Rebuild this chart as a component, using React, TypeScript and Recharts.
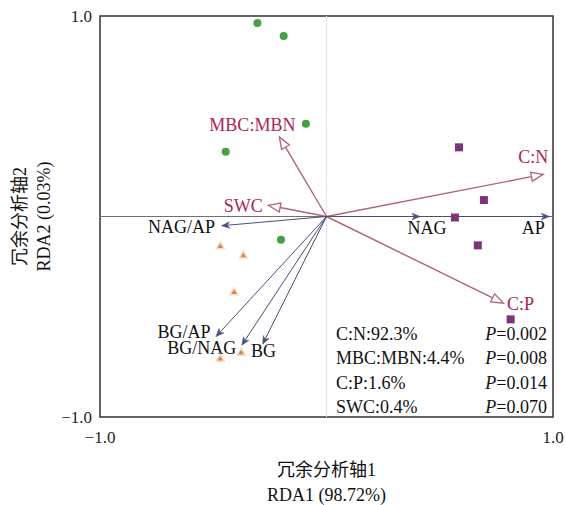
import React from "react";
import {
  ScatterChart,
  Scatter,
  XAxis,
  YAxis,
  ReferenceLine,
  ReferenceArea,
  ReferenceDot,
} from "recharts";

const FONT = "'Liberation Serif', 'Times New Roman', 'Noto Sans CJK SC', serif";

// sample scores
const groupGreen = [
  { x: -0.305, y: 0.965 },
  { x: -0.189, y: 0.9 },
  { x: -0.091, y: 0.463 },
  { x: -0.445, y: 0.323 },
  { x: -0.201, y: -0.116 },
];
const groupPurple = [
  { x: 0.585, y: 0.345 },
  { x: 0.695, y: 0.082 },
  { x: 0.567, y: -0.005 },
  { x: 0.668, y: -0.144 },
  { x: 0.813, y: -0.513 },
];
const groupOrange = [
  { x: -0.469, y: -0.146 },
  { x: -0.367, y: -0.192 },
  { x: -0.408, y: -0.375 },
  { x: -0.377, y: -0.677 },
  { x: -0.469, y: -0.707 },
];

// environmental factors (red arrows)
const envArrows = [
  { name: "C:N", x: 0.957, y: 0.21 },
  { name: "MBC:MBN", x: -0.208, y: 0.397 },
  { name: "C:P", x: 0.781, y: -0.432 },
  { name: "SWC", x: -0.257, y: 0.056 },
];

// enzyme variables (dark arrows)
const enzymeArrows = [
  { name: "AP", x: 0.984, y: 0 },
  { name: "NAG", x: 0.413, y: 0 },
  { name: "NAG/AP", x: -0.463, y: -0.046 },
  { name: "BG/AP", x: -0.488, y: -0.599 },
  { name: "BG/NAG", x: -0.374, y: -0.642 },
  { name: "BG", x: -0.282, y: -0.637 },
];

const statLabels = ["C:N:92.3%", "MBC:MBN:4.4%", "C:P:1.6%", "SWC:0.4%"];
const pValues = ["0.002", "0.008", "0.014", "0.070"];

const axisTicks = [-1, 1];

// label placement relative to arrow tip (px)
const labelOffset: Record<string, [number, number]> = {
  "C:N": [-10, -17],
  "MBC:MBN": [-27, -12],
  "C:P": [17, 1],
  SWC: [-25, 1],
  AP: [-16, 11],
  NAG: [7, 11],
  "NAG/AP": [-40, 1],
  "BG/AP": [-32, -5],
  "BG/NAG": [-40, 3],
  BG: [1, 7],
};

const ENV_LINE = "#b06474";
const ENV_TEXT = "#ad2457";
const ENZ_LINE = "#4a4e7c";

function arrowShape(name: string, kind: "env" | "enz") {
  return (p: any) => {
    const x1 = Number(p.x1);
    const y1 = Number(p.y1);
    const x2 = Number(p.x2);
    const y2 = Number(p.y2);
    const ang = Math.atan2(y2 - y1, x2 - x1);
    const cos = Math.cos(ang);
    const sin = Math.sin(ang);
    const len = kind === "env" ? 12 : 8;
    const hw = kind === "env" ? 4.5 : 3.2;
    const bx = x2 - len * cos;
    const by = y2 - len * sin;
    const lx = bx - hw * -sin;
    const ly = by - hw * cos;
    const rx = bx + hw * -sin;
    const ry = by + hw * cos;
    const nx = x2 - len * 0.7 * cos;
    const ny = y2 - len * 0.7 * sin;
    const [dx, dy] = labelOffset[name] || [0, 0];
    return (
      <g>
        <line
          x1={x1}
          y1={y1}
          x2={kind === "env" ? bx : nx}
          y2={kind === "env" ? by : ny}
          stroke={kind === "env" ? ENV_LINE : ENZ_LINE}
          strokeWidth={kind === "env" ? 1.4 : 1}
        />
        {kind === "env" ? (
          <polygon
            points={`${x2},${y2} ${lx},${ly} ${rx},${ry}`}
            fill="#fff"
            stroke={ENV_LINE}
            strokeWidth={1.3}
          />
        ) : (
          <polygon
            points={`${x2},${y2} ${lx},${ly} ${nx},${ny} ${rx},${ry}`}
            fill={ENZ_LINE}
            stroke={ENZ_LINE}
            strokeWidth={0.6}
          />
        )}
        <text
          x={x2 + dx}
          y={y2 + dy}
          textAnchor="middle"
          dominantBaseline="central"
          fontFamily={FONT}
          fontSize={18}
          fill={kind === "env" ? ENV_TEXT : "#111"}
        >
          {name}
        </text>
      </g>
    );
  };
}

const circleShape = (p: any) => <circle cx={p.cx} cy={p.cy} r={4} fill="#45a045" />;
const squareShape = (p: any) => (
  <rect x={p.cx - 4} y={p.cy - 4} width={8} height={8} fill="#7b3578" />
);
const triangleShape = (p: any) => (
  <polygon
    points={`${p.cx},${p.cy - 4} ${p.cx - 4},${p.cy + 3} ${p.cx + 4},${p.cy + 3}`}
    fill="#cf8a50"
    stroke="#f5ddc8"
    strokeWidth={1.5}
  />
);

const statsShape = (p: any) => (
  <g fontFamily={FONT} fontSize={18} fill="#111">
    {statLabels.map((s, i) => (
      <g key={s}>
        <text x={p.cx} y={p.cy + i * 24.3} dominantBaseline="central">
          {s}
        </text>
        <text x={p.cx + 211} y={p.cy + i * 24.3} dominantBaseline="central" textAnchor="end">
          <tspan fontStyle="italic">P</tspan>={pValues[i]}
        </text>
      </g>
    ))}
  </g>
);

const XTitle = (props: any) => {
  const vb = props.viewBox || {};
  const cx = vb.x + vb.width / 2;
  return (
    <g fontFamily={FONT} fontSize={18} fill="#111" textAnchor="middle">
      <text x={cx} y={vb.y + 53} dominantBaseline="central">冗余分析轴1</text>
      <text x={cx} y={vb.y + 78} dominantBaseline="central">RDA1 (98.72%)</text>
    </g>
  );
};

const YTitle = (props: any) => {
  const vb = props.viewBox || {};
  const cy = vb.y + vb.height / 2;
  return (
    <g fontFamily={FONT} fontSize={18} fill="#111" textAnchor="middle">
      <text x={20} y={cy} transform={`rotate(-90 20 ${cy})`} dominantBaseline="central">
        冗余分析轴2
      </text>
      <text x={44} y={cy} transform={`rotate(-90 44 ${cy})`} dominantBaseline="central">
        RDA2 (0.03%)
      </text>
    </g>
  );
};

const fmt = (v: number) => (v < 0 ? "\u22121.0" : "1.0");

export default function App() {
  return (
    <div style={{ position: "absolute", left: 0, top: 0, background: "#fff" }}>
      <ScatterChart width={566} height={505} margin={{ top: 16, right: 13, bottom: 0, left: 0 }}>
        <XAxis
          type="number"
          dataKey="x"
          domain={[-1, 1]}
          ticks={axisTicks}
          tickFormatter={fmt}
          axisLine={false}
          tickLine={false}
          tickMargin={8}
          height={88}
          tick={{ fontSize: 17, fill: "#222", fontFamily: FONT }}
          allowDataOverflow
          label={{ content: XTitle }}
        />
        <YAxis
          type="number"
          dataKey="y"
          domain={[-1, 1]}
          ticks={axisTicks}
          tickFormatter={fmt}
          axisLine={false}
          tickLine={false}
          width={100}
          tick={{ fontSize: 17, fill: "#222", fontFamily: FONT }}
          allowDataOverflow
          label={{ content: YTitle }}
        />
        <ReferenceLine x={0} stroke="#e2e4ec" strokeWidth={1} />
        <ReferenceLine y={0} stroke="#707070" strokeWidth={1.2} />
        {envArrows.map((a) => (
          <ReferenceLine
            key={a.name}
            segment={[{ x: 0, y: 0 }, { x: a.x, y: a.y }]}
            ifOverflow="visible"
            shape={arrowShape(a.name, "env")}
          />
        ))}
        {enzymeArrows.map((a) => (
          <ReferenceLine
            key={a.name}
            segment={[{ x: 0, y: 0 }, { x: a.x, y: a.y }]}
            ifOverflow="visible"
            shape={arrowShape(a.name, "enz")}
          />
        ))}
        <Scatter data={groupGreen} shape={circleShape} isAnimationActive={false} />
        <Scatter data={groupPurple} shape={squareShape} isAnimationActive={false} />
        <Scatter data={groupOrange} shape={triangleShape} isAnimationActive={false} />
        <ReferenceDot x={0.042} y={-0.586} ifOverflow="visible" shape={statsShape} />
        <ReferenceArea
          x1={-1}
          x2={1}
          y1={-1}
          y2={1}
          fill="none"
          stroke="#333"
          strokeWidth={1.5}
          fillOpacity={0}
          ifOverflow="visible"
        />
      </ScatterChart>
    </div>
  );
}
